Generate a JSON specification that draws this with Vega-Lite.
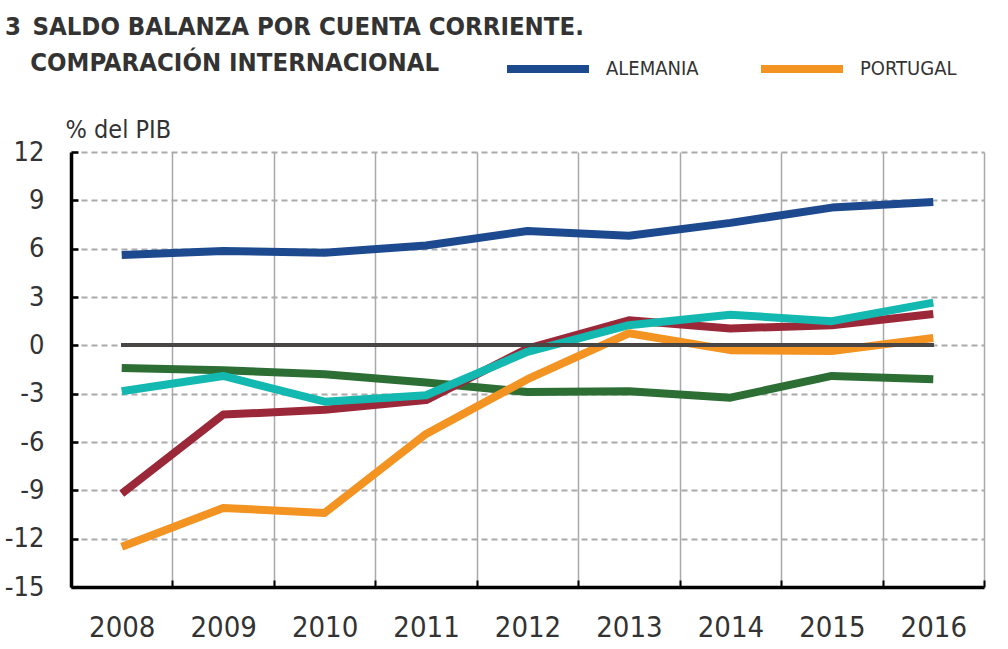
{
  "$schema": "https://vega.github.io/schema/vega-lite/v6.json",
  "autosize": {"type": "none"},
  "width": 913,
  "height": 435,
  "padding": {"left": 71, "top": 152, "right": 24, "bottom": 62},
  "background": "white",
  "title": {
    "text": ["3\u2002SALDO BALANZA POR CUENTA CORRIENTE.", "\u200b\u2002\u2002\u200aCOMPARACIÓN INTERNACIONAL"],
    "anchor": "start",
    "frame": "group",
    "orient": "top",
    "baseline": "top",
    "font": "DejaVu Sans Condensed, Liberation Sans, sans-serif",
    "fontSize": 25.5,
    "fontWeight": "bold",
    "color": "#333333",
    "lineHeight": 36,
    "dx": -66,
    "dy": 0,
    "offset": -52
  },
  "config": {
    "view": {"stroke": null},
    "axis": {"labelFont": "DejaVu Sans Condensed, Liberation Sans, sans-serif", "labelColor": "#333333", "titleFont": "DejaVu Sans Condensed, Liberation Sans, sans-serif", "titleColor": "#333333"}
  },
  "data": {
    "values": [
      {"year": "2008", "pais": "FRANCIA", "valor": -1.4},
      {"year": "2009", "pais": "FRANCIA", "valor": -1.55},
      {"year": "2010", "pais": "FRANCIA", "valor": -1.8},
      {"year": "2011", "pais": "FRANCIA", "valor": -2.3},
      {"year": "2012", "pais": "FRANCIA", "valor": -2.9},
      {"year": "2013", "pais": "FRANCIA", "valor": -2.85},
      {"year": "2014", "pais": "FRANCIA", "valor": -3.25},
      {"year": "2015", "pais": "FRANCIA", "valor": -1.9},
      {"year": "2016", "pais": "FRANCIA", "valor": -2.1},
      {"year": "2008", "pais": "ESPAÑA", "valor": -9.2},
      {"year": "2009", "pais": "ESPAÑA", "valor": -4.3},
      {"year": "2010", "pais": "ESPAÑA", "valor": -4.0},
      {"year": "2011", "pais": "ESPAÑA", "valor": -3.4},
      {"year": "2012", "pais": "ESPAÑA", "valor": -0.2},
      {"year": "2013", "pais": "ESPAÑA", "valor": 1.55},
      {"year": "2014", "pais": "ESPAÑA", "valor": 1.05},
      {"year": "2015", "pais": "ESPAÑA", "valor": 1.25},
      {"year": "2016", "pais": "ESPAÑA", "valor": 1.95},
      {"year": "2008", "pais": "ITALIA", "valor": -2.85},
      {"year": "2009", "pais": "ITALIA", "valor": -1.9},
      {"year": "2010", "pais": "ITALIA", "valor": -3.5},
      {"year": "2011", "pais": "ITALIA", "valor": -3.1},
      {"year": "2012", "pais": "ITALIA", "valor": -0.4},
      {"year": "2013", "pais": "ITALIA", "valor": 1.25},
      {"year": "2014", "pais": "ITALIA", "valor": 1.9},
      {"year": "2015", "pais": "ITALIA", "valor": 1.5},
      {"year": "2016", "pais": "ITALIA", "valor": 2.65},
      {"year": "2008", "pais": "PORTUGAL", "valor": -12.5},
      {"year": "2009", "pais": "PORTUGAL", "valor": -10.1},
      {"year": "2010", "pais": "PORTUGAL", "valor": -10.4},
      {"year": "2011", "pais": "PORTUGAL", "valor": -5.5},
      {"year": "2012", "pais": "PORTUGAL", "valor": -2.1},
      {"year": "2013", "pais": "PORTUGAL", "valor": 0.75},
      {"year": "2014", "pais": "PORTUGAL", "valor": -0.3},
      {"year": "2015", "pais": "PORTUGAL", "valor": -0.35},
      {"year": "2016", "pais": "PORTUGAL", "valor": 0.45},
      {"year": "2008", "pais": "ALEMANIA", "valor": 5.6},
      {"year": "2009", "pais": "ALEMANIA", "valor": 5.85},
      {"year": "2010", "pais": "ALEMANIA", "valor": 5.75},
      {"year": "2011", "pais": "ALEMANIA", "valor": 6.2},
      {"year": "2012", "pais": "ALEMANIA", "valor": 7.1},
      {"year": "2013", "pais": "ALEMANIA", "valor": 6.8},
      {"year": "2014", "pais": "ALEMANIA", "valor": 7.6},
      {"year": "2015", "pais": "ALEMANIA", "valor": 8.55},
      {"year": "2016", "pais": "ALEMANIA", "valor": 8.9}
    ]
  },
  "layer": [
    {
      "mark": {"type": "line", "strokeWidth": 8, "strokeCap": "butt", "strokeJoin": "round"},
      "encoding": {
        "x": {
          "field": "year",
          "type": "ordinal",
          "bandPosition": 0.5,
          "scale": {"type": "band", "paddingInner": 0, "paddingOuter": 0},
          "axis": {
            "title": null,
            "labelAngle": 0,
            "labelFontSize": 29,
            "labelPadding": 33,
            "tickBand": "extent",
            "grid": true,
            "gridColor": "#a8a8ad",
            "gridWidth": 1.5,
            "domainColor": "#000000",
            "domainWidth": 3.5,
            "tickColor": "#000000",
            "tickWidth": 2,
            "tickSize": -7
          }
        },
        "y": {
          "field": "valor",
          "type": "quantitative",
          "scale": {"domain": [-15, 12], "nice": false, "zero": false},
          "axis": {
            "title": "% del PIB",
            "titleAngle": 0,
            "titleAlign": "left",
            "titleBaseline": "alphabetic",
            "titleX": -6,
            "titleY": -15,
            "titleFontSize": 25,
            "titleFontWeight": "normal",
            "values": [-15, -12, -9, -6, -3, 0, 3, 6, 9, 12],
            "labelExpr": "'' + datum.value",
            "labelFontSize": 27,
            "labelPadding": 34,
            "grid": true,
            "gridColor": "#aaaaaa",
            "gridWidth": 2,
            "gridDash": [6, 4],
            "domainColor": "#000000",
            "domainWidth": 3.5,
            "tickColor": "#000000",
            "tickWidth": 2.5,
            "tickSize": -7
          }
        },
        "color": {
          "field": "pais",
          "type": "nominal",
          "scale": {
            "domain": ["ALEMANIA", "PORTUGAL", "ESPAÑA", "FRANCIA", "ITALIA"],
            "range": ["#1d4a8f", "#f39322", "#9b2838", "#2d6e35", "#13b9b0"]
          },
          "legend": {
            "title": null,
            "values": ["ALEMANIA", "PORTUGAL"],
            "orient": "none",
            "direction": "horizontal",
            "legendX": 432,
            "legendY": -128,
            "padding": 0,
            "symbolType": "stroke",
            "symbolSize": 6724,
            "symbolStrokeWidth": 8,
            "labelFont": "DejaVu Sans Condensed, Liberation Sans, sans-serif",
            "labelFontSize": 20,
            "labelColor": "#333333",
            "labelOffset": 13,
            "columnPadding": 46,
            "labelLimit": 300
          }
        }
      }
    },
    {
      "mark": {"type": "rule", "color": "#4a4646", "strokeWidth": 3},
      "encoding": {
        "x": {"datum": "2008", "type": "ordinal", "bandPosition": 0.5},
        "x2": {"datum": "2016"},
        "y": {"datum": 0, "type": "quantitative"}
      }
    }
  ]
}
